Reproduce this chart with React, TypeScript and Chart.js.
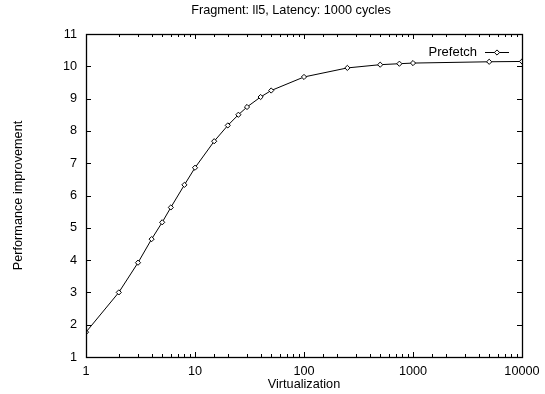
import React, { useEffect, useRef } from "react";
import { Chart, registerables } from "chart.js";

Chart.register(...registerables);

const TITLE = "Fragment: ll5, Latency: 1000 cycles";
const X_TITLE = "Virtualization";
const Y_TITLE = "Performance improvement";
const SERIES_NAME = "Prefetch";

const virtualization = [1, 2, 3, 4, 5, 6, 8, 10, 15, 20, 25, 30, 40, 50, 100, 250, 500, 750, 1000, 5000, 10000];
const prefetch = [1.77, 3.0, 3.92, 4.65, 5.17, 5.63, 6.33, 6.86, 7.68, 8.17, 8.5, 8.74, 9.05, 9.25, 9.67, 9.95, 10.05, 10.08, 10.1, 10.14, 10.15];

const X_MIN = 1;
const X_MAX = 10000;
const Y_MIN = 1;
const Y_MAX = 11;

const FONT = "Liberation Sans, Arial, Helvetica, sans-serif";
const FS = 12.7;

const isPow10 = (v: number) => {
  const l = Math.log10(v);
  return Math.abs(l - Math.round(l)) < 1e-9;
};

const framePlugin = {
  id: "gnuplotFrame",
  afterDraw(chart: any) {
    const { ctx, chartArea } = chart;
    const { left, right, top, bottom } = chartArea;
    const xs = chart.scales.x;
    const ys = chart.scales.y;
    ctx.save();
    ctx.strokeStyle = "#000";
    ctx.lineWidth = 1;
    ctx.beginPath();
    xs.ticks.forEach((t: any) => {
      const v = t.value;
      if (v < X_MIN || v > X_MAX) return;
      const px = Math.round(xs.getPixelForValue(v)) + 0.5;
      const len = isPow10(v) ? 5 : 3;
      ctx.moveTo(px, bottom);
      ctx.lineTo(px, bottom - len);
      ctx.moveTo(px, top);
      ctx.lineTo(px, top + len);
    });
    ys.ticks.forEach((t: any) => {
      const py = Math.round(ys.getPixelForValue(t.value)) + 0.5;
      ctx.moveTo(left, py);
      ctx.lineTo(left + 5, py);
      ctx.moveTo(right, py);
      ctx.lineTo(right - 5, py);
    });
    ctx.stroke();
    ctx.lineWidth = 1.3;
    ctx.strokeRect(Math.round(left) + 0.5, Math.round(top) + 0.5, Math.round(right - left), Math.round(bottom - top));

    // title
    ctx.fillStyle = "#000";
    ctx.font = `${FS}px ${FONT}`;
    ctx.textAlign = "center";
    ctx.textBaseline = "middle";
    ctx.fillText(TITLE, 291, 10);

    // legend
    const ly = 52;
    ctx.textAlign = "right";
    ctx.font = `13px ${FONT}`;
    ctx.fillText(SERIES_NAME, 477, ly);
    ctx.lineWidth = 1;
    ctx.beginPath();
    ctx.moveTo(485, ly + 0.5);
    ctx.lineTo(509, ly + 0.5);
    ctx.stroke();
    ctx.beginPath();
    const mx = 497, my = ly + 0.5, r = 2.6;
    ctx.moveTo(mx, my - r);
    ctx.lineTo(mx + r, my);
    ctx.lineTo(mx, my + r);
    ctx.lineTo(mx - r, my);
    ctx.closePath();
    ctx.fillStyle = "#fff";
    ctx.fill();
    ctx.stroke();
    ctx.restore();
  },
};

export default function App() {
  const ref = useRef<HTMLCanvasElement>(null);
  useEffect(() => {
    if (!ref.current) return;
    const chart = new Chart(ref.current, {
      type: "scatter",
      data: {
        datasets: [
          {
            label: SERIES_NAME,
            data: virtualization.map((x, i) => ({ x, y: prefetch[i] })),
            showLine: true,
            borderColor: "#000",
            borderWidth: 1,
            pointStyle: "rectRot",
            pointRadius: 2.6,
            pointBackgroundColor: "#fff",
            pointBorderColor: "#000",
            pointBorderWidth: 1,
          },
        ],
      },
      options: {
        responsive: false,
        animation: false,
        events: [],
        layout: { padding: { top: 34, right: 23, left: 0, bottom: 0 } },
        plugins: { legend: { display: false }, tooltip: { enabled: false }, title: { display: false } },
        scales: {
          x: {
            type: "logarithmic",
            min: X_MIN,
            max: X_MAX,
            grid: { display: false, drawTicks: false },
            border: { display: false },
            ticks: {
              autoSkip: false,
              maxRotation: 0,
              padding: 7,
              color: "#000",
              font: { family: FONT, size: FS },
              callback: (v: any) => (isPow10(Number(v)) ? String(Number(v)) : ""),
            },
            title: {
              display: true,
              text: X_TITLE,
              color: "#000",
              font: { family: FONT, size: FS },
              padding: { top: 0, bottom: 2 },
            },
            afterFit: (s: any) => {
              s.height = 37;
              s.paddingLeft = 0;
              s.paddingRight = 0;
            },
          },
          y: {
            min: Y_MIN,
            max: Y_MAX,
            grid: { display: false, drawTicks: false },
            border: { display: false },
            ticks: {
              stepSize: 1,
              padding: 9,
              color: "#000",
              font: { family: FONT, size: FS },
            },
            title: {
              display: true,
              text: Y_TITLE,
              color: "#000",
              font: { family: FONT, size: FS },
              padding: { top: 11, bottom: 0 },
            },
            afterFit: (s: any) => {
              s.width = 86;
              s.paddingTop = 0;
              s.paddingBottom = 0;
            },
          },
        },
      },
      plugins: [framePlugin],
    });
    return () => chart.destroy();
  }, []);
  return (
    <div style={{ position: "fixed", left: 0, top: 0, width: 545, height: 394, background: "#fff" }}>
      <canvas ref={ref} width={545} height={394} style={{ width: 545, height: 394, display: "block" }} />
    </div>
  );
}
